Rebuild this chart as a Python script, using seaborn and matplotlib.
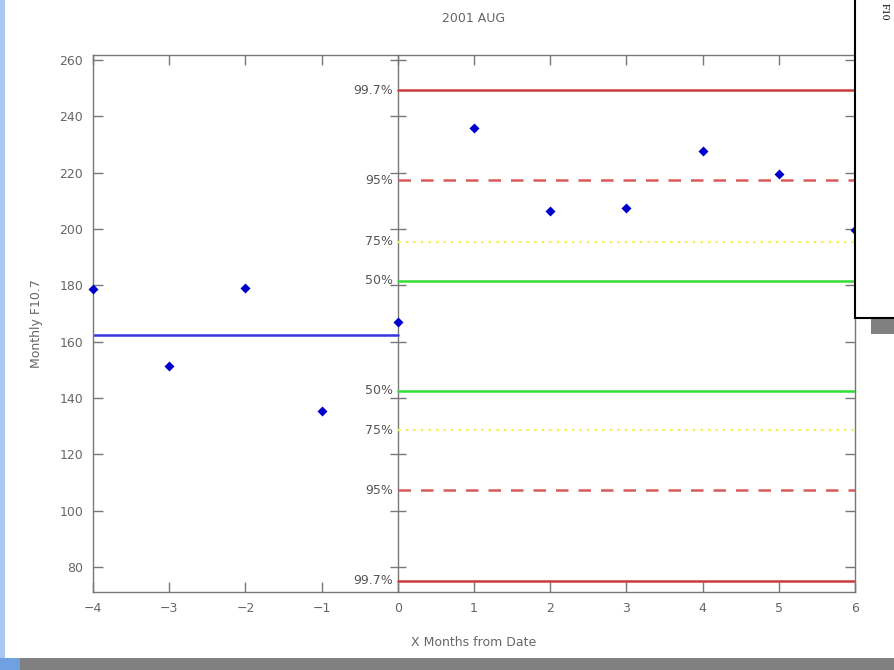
import numpy as np
import pandas as pd
import matplotlib
matplotlib.use("Agg")
import matplotlib.pyplot as plt
from matplotlib.patches import Rectangle
import seaborn as sns

# Datos
months = [-4, -3, -2, -1, 0, 1, 2, 3, 4, 5, 6]
f107 = [178.8, 151.5, 179.0, 135.4, 167.0, 235.7, 206.4, 207.6, 227.7, 219.6, 199.6]
mean_before = 162.4
pct_labels = ["50%", "75%", "95%", "99.7%"]
upper_levels = [181.6, 195.5, 217.3, 249.3]
lower_levels = [142.6, 128.6, 107.3, 75.1]
xticks = [-4, -3, -2, -1, 0, 1, 2, 3, 4, 5, 6]
yticks = [80, 100, 120, 140, 160, 180, 200, 220, 240, 260]

sns.set_theme(style="ticks")
plt.rcParams['font.family'] = ['DejaVu Sans']

gray_txt = "#666666"
level_styles = {
    "50%": dict(color="#33dd33", lw=1.8, ls="-"),
    "75%": dict(color="#f2f25a", lw=1.6, ls=(0, (1.2, 2.2))),
    "95%": dict(color="#d85a5a", lw=1.8, ls=(0, (5, 4))),
    "99.7%": dict(color="#cc3b3b", lw=1.8, ls="-"),
}

fig = plt.figure(figsize=(8.95, 6.7), dpi=100)
fig.patch.set_facecolor("white")
ax = fig.add_axes([93 / 895, 1 - 592 / 670, (855 - 93) / 895, (592 - 55) / 670])

df = pd.DataFrame({"month": months, "f107": f107})

# Lineas de percentiles
for lab, up, lo in zip(pct_labels, upper_levels, lower_levels):
    st = level_styles[lab]
    for lev in (up, lo):
        ax.plot([0, 6], [lev, lev], color=st["color"], lw=st["lw"], ls=st["ls"], zorder=2)
        ax.text(-0.06, lev, lab, ha="right", va="center", fontsize=9, color="#555555")

# Promedio de los meses previos
ax.plot([-4, 0], [mean_before, mean_before], color="#3535e0", lw=1.8, zorder=2)

sns.scatterplot(data=df, x="month", y="f107", marker="D", s=26, color="#0000cc",
                edgecolor="#0000cc", linewidth=0, ax=ax, zorder=4, clip_on=False)

ax.set_xlim(-4, 6)
ax.set_ylim(71.1, 261.8)
ax.set_xticks(xticks)
ax.set_xticklabels([f"\u2212{abs(t)}" if t < 0 else str(t) for t in xticks])
ax.set_yticks(yticks)
ax.tick_params(direction="in", length=7, width=1, colors="#777777", labelcolor=gray_txt,
               labelsize=9, top=True, right=True, pad=7)
for sp in ax.spines.values():
    sp.set_color("#777777")
    sp.set_linewidth(1)

# Eje central en x = 0
sec = ax.secondary_yaxis(0.4)
sec.set_yticks(yticks)
sec.tick_params(direction="inout", length=12, width=1, colors="#777777", labelleft=False)
sec.spines["left"].set_color("#777777")
sec.spines["left"].set_linewidth(1)

ax.set_title("2001 AUG", fontsize=9, color=gray_txt, pad=24)
ax.set_xlabel("X Months from Date", fontsize=9, color=gray_txt, labelpad=15)
ax.set_ylabel("Monthly F10.7", fontsize=9, color=gray_txt, labelpad=12)

# Elementos de la diapositiva
fig.add_artist(Rectangle((0, 0), 5 / 895, 1, transform=fig.transFigure,
                         facecolor="#a8c8ef", edgecolor="none", zorder=20))
fig.add_artist(Rectangle((20 / 895, 0), 1, 12 / 670, transform=fig.transFigure,
                         facecolor="#808080", edgecolor="none", zorder=20))
fig.add_artist(Rectangle((0, 0), 20 / 895, 12 / 670, transform=fig.transFigure,
                         facecolor="#6fa0e0", edgecolor="none", zorder=20))
fig.add_artist(Rectangle((871 / 895, 1 - 334 / 670), 1, 16 / 670, transform=fig.transFigure,
                         facecolor="#808080", edgecolor="none", zorder=20))
fig.add_artist(Rectangle((855 / 895, 1 - 318 / 670), 1, 318 / 670 + 0.01,
                         transform=fig.transFigure, facecolor="white",
                         edgecolor="black", linewidth=1.5, zorder=21))
fig.text(880 / 895, 1 - 3 / 670, "F10", rotation=270, ha="left", va="top",
         fontsize=8, family="Liberation Serif", color="black", zorder=22)

fig.savefig("out.png", dpi=100)
